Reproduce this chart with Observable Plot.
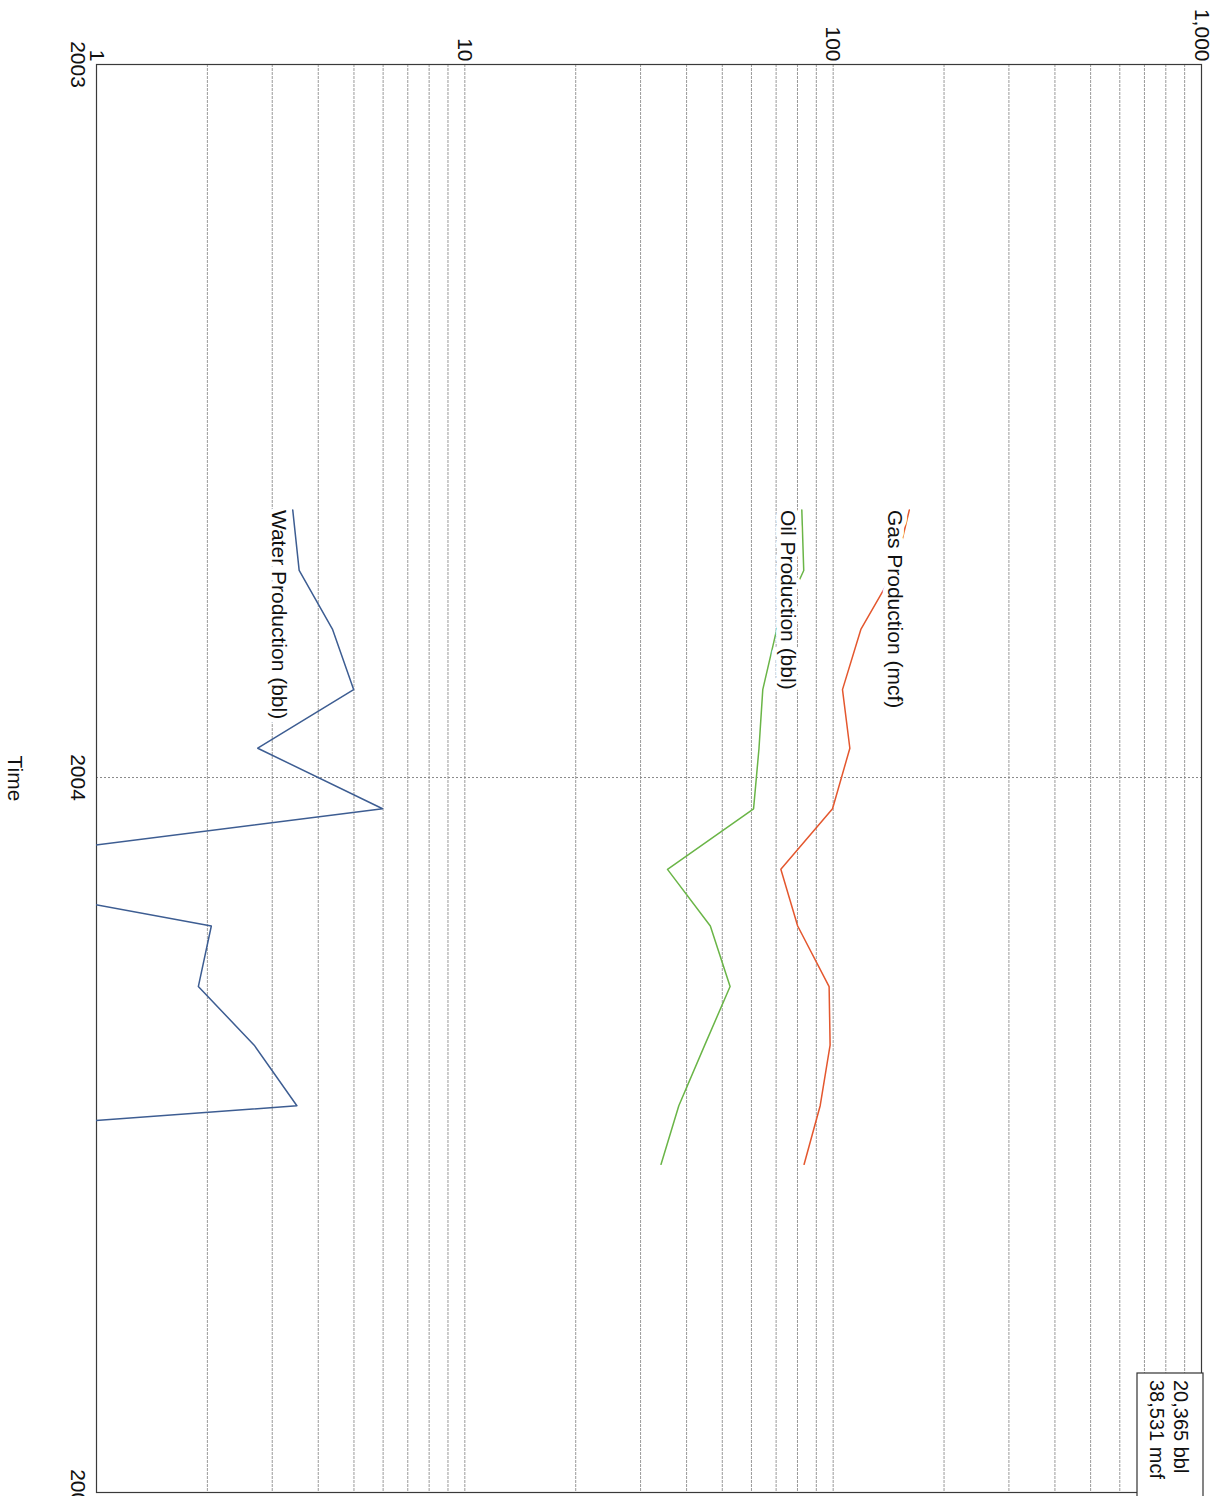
<!DOCTYPE html>
<html>
<head>
<meta charset="utf-8">
<script src="https://cdn.jsdelivr.net/npm/d3@7"></script>
<script src="https://cdn.jsdelivr.net/npm/@observablehq/plot@0.6"></script>
<style>
  html, body { margin: 0; padding: 0; background: #fff; overflow: hidden; }
</style>
</head>
<body>
<div id="chart"></div>
<script>
// ---- data (monthly production) ----
const months = ["2003-08-17", "2003-09-17", "2003-10-17", "2003-11-17", "2003-12-17", "2004-01-17",
                "2004-02-17", "2004-03-17", "2004-04-17", "2004-05-17", "2004-06-17", "2004-07-17"];
const gasMcf   = [161, 147, 119, 106, 111, 99.6, 72.1, 80.1, 97.5, 98.1, 92.2, 83.4];
const oilBbl   = [82.2, 83.2, 70.3, 64.4, 62.9, 60.8, 35.5, 46.4, 52.5, 44.8, 38.1, 34.1];
const waterBbl = [3.41, 3.55, 4.37, 4.99, 2.74, 5.98, 0.3, 2.05, 1.89, 2.68, 3.50, 0.025];
const seriesNames  = ["Gas Production (mcf)", "Oil Production (bbl)", "Water Production (bbl)"];
const seriesColors = ["#e4572e", "#6ab547", "#3d5d92"];
const valueTicks = [1, 10, 100, 1000];
const yearTicks  = ["2003-01-01", "2004-01-01", "2005-01-01"];
const legendLines = ["20,365 bbl", "38,531 mcf"];
const axisTitle = "Time";

const parse = d3.utcParse("%Y-%m-%d");
const series = [gasMcf, oilBbl, waterBbl];
const rows = series.flatMap((vals, i) =>
  vals.map((v, j) => ({name: seriesNames[i], date: parse(months[j]), value: v})));
const firsts = series.map((vals, i) => ({name: seriesNames[i], date: parse(months[0]), value: vals[0]}));
const years = yearTicks.map(parse);
const gridValues = d3.range(0, 3).flatMap(k => d3.range(1, 10).map(m => m * 10 ** k)).concat([1000]);

const legendMark = (index, scales, values, dims) => {
  const right = dims.width - dims.marginRight;
  const bottom = dims.height - dims.marginBottom;
  const g = d3.create("svg:g");
  g.append("rect")
    .attr("x", right - 64).attr("y", bottom - 119)
    .attr("width", 66).attr("height", 150)
    .attr("fill", "white").attr("stroke", "#333").attr("stroke-width", 1.2);
  g.selectAll("text").data(legendLines).join("text")
    .attr("transform", (d, i) => `translate(${right - 13 - 24 * i},${bottom - 112}) rotate(90)`)
    .attr("dy", "0.71em")
    .attr("text-anchor", "start")
    .attr("font-size", "20px")
    .attr("fill", "#111")
    .text(d => d);
  return g.node();
};

const chart = Plot.plot({
  width: 1217,
  height: 1496,
  marginTop: 64,
  marginBottom: 4,
  marginLeft: 96,
  marginRight: 16,
  style: {fontFamily: "'Liberation Sans', Arial, sans-serif", fontSize: "21px", background: "white", color: "#111"},
  x: {type: "log", domain: [1, 1000]},
  y: {type: "utc", domain: [years[0], years[2]], reverse: true},
  color: {domain: seriesNames, range: seriesColors},
  marks: [
    Plot.gridX(gridValues, {stroke: "#9a9a9a", strokeOpacity: 1, strokeWidth: 1, strokeDasharray: "3,1"}),
    Plot.gridY([years[1]], {stroke: "#8a8a8a", strokeOpacity: 1, strokeWidth: 1, strokeDasharray: "2,2"}),
    Plot.frame({stroke: "#3a3a3a", strokeWidth: 1.2}),
    Plot.line(rows, {x: "value", y: "date", z: "name", stroke: "name", strokeWidth: 1.5, clip: true}),
    Plot.text(firsts, {x: "value", y: "date", text: "name", rotate: 90, textAnchor: "start", lineAnchor: "top",
                       dx: -6, fill: "#111", stroke: "white", strokeWidth: 10, paintOrder: "stroke"}),
    Plot.axisX(valueTicks, {anchor: "top", tickSize: 0, tickRotate: 90, tickPadding: 3,
                            tickFormat: d3.format(","), textAnchor: "end", lineAnchor: "middle", label: null}),
    Plot.axisY(years, {anchor: "left", tickSize: 0, tickRotate: 90, tickPadding: 11,
                       tickFormat: d3.utcFormat("%Y"), textAnchor: "middle", lineAnchor: "top", label: null}),
    Plot.text([axisTitle], {frameAnchor: "left", text: d => d, rotate: 90, textAnchor: "middle",
                            lineAnchor: "top", dx: -74, fill: "#111"}),
    legendMark
  ]
});
document.getElementById("chart").append(chart);
</script>
</body>
</html>
